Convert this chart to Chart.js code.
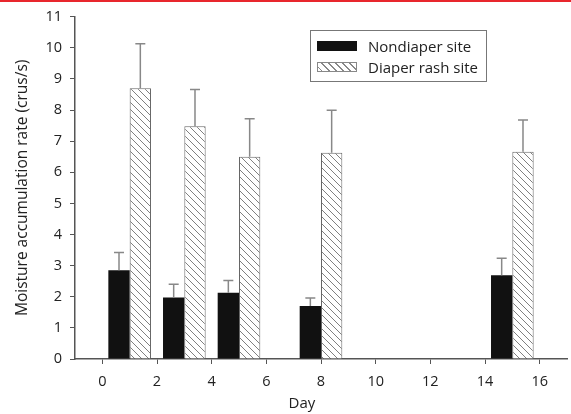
<!DOCTYPE html>
<html>
<head>
<meta charset="utf-8">
<script src="https://cdn.jsdelivr.net/npm/chart.js@4.4.1/dist/chart.umd.min.js"></script>
<style>
  html, body { margin: 0; padding: 0; background: #fff; }
  #wrap { position: relative; width: 571px; height: 414px; overflow: hidden; }
  #topline { position: absolute; left: 0; top: 0; width: 571px; height: 2px; background: #e8262d; }
  #chart { position: absolute; left: 0; top: 0; }
  #legend {
    position: absolute; left: 310px; top: 30px; width: 177px; height: 52px;
    border: 1px solid #777; box-sizing: border-box;
    font-family: "Open Sans", sans-serif; font-size: 15px; color: #222;
  }
  .item { position: absolute; left: 6px; height: 20px; display: flex; align-items: center; }
  .sw { width: 40px; height: 10px; margin-right: 11px; box-sizing: border-box; }
  .solid { background: #111; }
  .hatch {
    border: 1px solid #888;
    background: repeating-linear-gradient(45deg, #fff 0 2.5px, #888 2.5px 3.5px, #fff 3.5px 5px);
  }
</style>
</head>
<body>
<div id="wrap">
  <canvas id="chart" width="571" height="414"></canvas>
  <div id="topline"></div>
  <div id="legend">
    <div class="item" style="top:5px"><div class="sw solid"></div><span>Nondiaper site</span></div>
    <div class="item" style="top:26px"><div class="sw hatch"></div><span>Diaper rash site</span></div>
  </div>
</div>
<script>
// Measurement days and moisture accumulation rates (crus/s)
const days = [1, 3, 5, 8, 15];
const nondiaper = [2.85, 1.98, 2.13, 1.70, 2.69];
const nondiaperSD = [0.57, 0.42, 0.39, 0.26, 0.55];
const diaperRash = [8.70, 7.48, 6.50, 6.63, 6.66];
const diaperRashSD = [1.43, 1.18, 1.22, 1.36, 1.02];
const xTickValues = [0, 2, 4, 6, 8, 10, 12, 14, 16];

// Diagonal hatch fill for the diaper rash bars
function makeHatch() {
  const s = 7;
  const c = document.createElement('canvas');
  c.width = s; c.height = s;
  const g = c.getContext('2d');
  g.fillStyle = '#fff';
  g.fillRect(0, 0, s, s);
  g.strokeStyle = '#808080';
  g.lineWidth = 1;
  g.beginPath();
  g.moveTo(-1, -1); g.lineTo(s + 1, s + 1);
  g.moveTo(-1, s - 1); g.lineTo(1, s + 1);
  g.moveTo(s - 1, -1); g.lineTo(s + 1, 1);
  g.stroke();
  return g.createPattern(c, 'repeat');
}

const FONT = '"Open Sans", sans-serif';

// Upward-only error bars with caps
const errorBars = {
  id: 'errorBars',
  afterDatasetsDraw(chart) {
    const ctx = chart.ctx;
    const yScale = chart.scales.y;
    chart.data.datasets.forEach((ds, i) => {
      const meta = chart.getDatasetMeta(i);
      meta.data.forEach((bar, j) => {
        const v = ds.data[j].y;
        const top = yScale.getPixelForValue(v + ds.sd[j]);
        const base = yScale.getPixelForValue(v);
        ctx.save();
        ctx.strokeStyle = '#888';
        ctx.lineWidth = 1.5;
        ctx.beginPath();
        ctx.moveTo(bar.x, base);
        ctx.lineTo(bar.x, top);
        ctx.moveTo(bar.x - 5, top);
        ctx.lineTo(bar.x + 5, top);
        ctx.stroke();
        ctx.restore();
      });
    });
  }
};

// x-axis title, set slightly left of the axis centre
const dayTitle = {
  id: 'dayTitle',
  afterDraw(chart) {
    const ctx = chart.ctx;
    const xScale = chart.scales.x;
    ctx.save();
    ctx.font = '15px ' + FONT;
    ctx.fillStyle = '#222';
    ctx.textAlign = 'center';
    ctx.textBaseline = 'middle';
    ctx.fillText('Day', xScale.getPixelForValue(7.3), 404);
    ctx.restore();
  }
};

new Chart(document.getElementById('chart'), {
  type: 'bar',
  data: {
    datasets: [
      {
        label: 'Nondiaper site',
        data: days.map((d, i) => ({ x: d, y: nondiaper[i] })),
        sd: nondiaperSD,
        backgroundColor: '#111',
        borderWidth: 0,
        categoryPercentage: 0.78,
        barPercentage: 1.0
      },
      {
        label: 'Diaper rash site',
        data: days.map((d, i) => ({ x: d, y: diaperRash[i] })),
        sd: diaperRashSD,
        backgroundColor: makeHatch(),
        borderColor: '#666',
        borderWidth: 1,
        categoryPercentage: 0.78,
        barPercentage: 1.0
      }
    ]
  },
  options: {
    responsive: false,
    animation: false,
    devicePixelRatio: 1,
    layout: { padding: { top: 15, right: 4, left: 0, bottom: 0 } },
    plugins: { legend: { display: false }, tooltip: { enabled: false } },
    scales: {
      x: {
        type: 'linear',
        min: -1, max: 17,
        offset: false,
        afterBuildTicks: s => { s.ticks = xTickValues.map(v => ({ value: v })); },
        afterFit: s => { s.height = 55; },
        grid: { display: true, offset: false, drawOnChartArea: false, drawTicks: true, tickLength: 5, color: '#555', lineWidth: 1 },
        border: { display: true, color: '#555', width: 1.5 },
        ticks: { font: { family: FONT, size: 14.5 }, color: '#222', padding: 9, maxRotation: 0 },
        title: { display: false }
      },
      y: {
        min: 0, max: 11,
        afterFit: s => { s.width = 75; },
        grid: { display: true, drawOnChartArea: false, drawTicks: true, tickLength: 5, color: '#555', lineWidth: 1 },
        border: { display: true, color: '#555', width: 1.5 },
        ticks: { stepSize: 1, font: { family: FONT, size: 14.5 }, color: '#222', padding: 8 },
        title: { display: true, text: 'Moisture accumulation rate (crus/s)', font: { family: FONT, size: 15.5 }, color: '#222', padding: { top: 13, bottom: 0 } }
      }
    }
  },
  plugins: [errorBars, dayTitle]
});
</script>
</body>
</html>
